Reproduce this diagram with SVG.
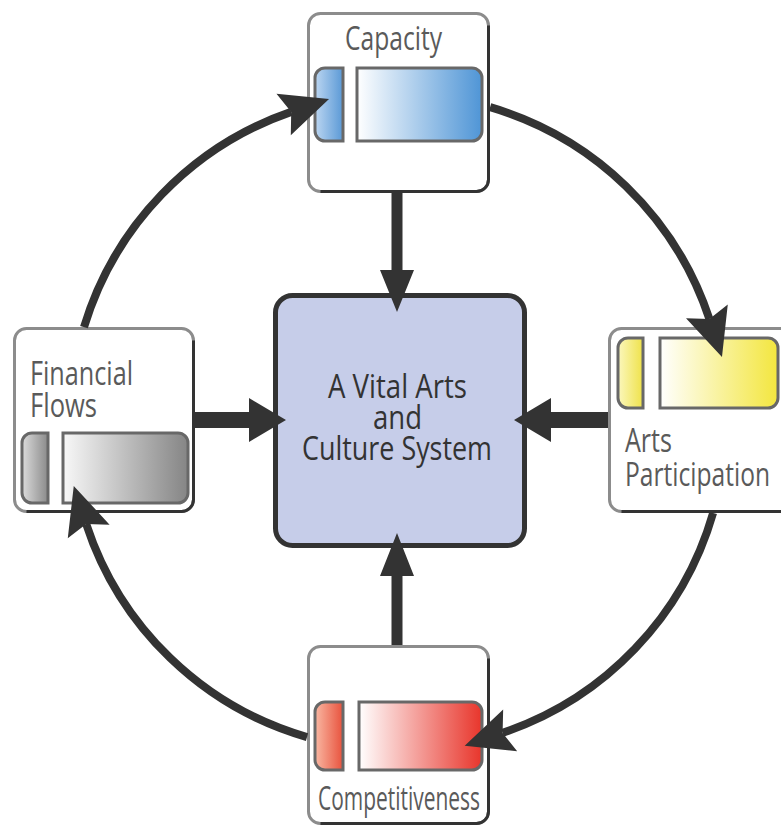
<svg xmlns="http://www.w3.org/2000/svg" width="781" height="827" viewBox="0 0 781 827">
  <style>
    .card { fill: #ffffff; stroke: #8c8c8c; stroke-width: 3; }
    .shade { fill: none; stroke: #333333; stroke-width: 3; }
    .chip { stroke: #686868; stroke-width: 3; }
    .label { font-family: "Open Sans", "Liberation Sans", sans-serif; font-size: 32px; fill: #5a5a5a; }
    .core { fill: #c6cde9; stroke: #333333; stroke-width: 5; }
    .coretext { font-family: "Open Sans", "Liberation Sans", sans-serif; font-size: 32px; fill: #333333; text-anchor: middle; }
    .arc { fill: none; stroke: #333333; stroke-width: 8; }
    .solid { fill: #333333; }
  </style>
  <defs>
    <linearGradient id="blueBar" x1="0" y1="0" x2="1" y2="0">
      <stop offset="0" stop-color="#ffffff"/>
      <stop offset="1" stop-color="#4f95d6"/>
    </linearGradient>
    <linearGradient id="blueTab" x1="0" y1="0" x2="1" y2="0">
      <stop offset="0" stop-color="#bcd6f1"/>
      <stop offset="1" stop-color="#5a99d6"/>
    </linearGradient>
    <linearGradient id="grayBar" x1="0" y1="0" x2="1" y2="0">
      <stop offset="0" stop-color="#f8f8f8"/>
      <stop offset="1" stop-color="#858585"/>
    </linearGradient>
    <linearGradient id="grayTab" x1="0" y1="0" x2="1" y2="0">
      <stop offset="0" stop-color="#dcdcdc"/>
      <stop offset="1" stop-color="#8a8a8a"/>
    </linearGradient>
    <linearGradient id="yellowBar" x1="0" y1="0" x2="1" y2="0">
      <stop offset="0" stop-color="#ffffff"/>
      <stop offset="1" stop-color="#f3e63e"/>
    </linearGradient>
    <linearGradient id="yellowTab" x1="0" y1="0" x2="1" y2="0">
      <stop offset="0" stop-color="#fbf7bd"/>
      <stop offset="1" stop-color="#efe24a"/>
    </linearGradient>
    <linearGradient id="redBar" x1="0" y1="0" x2="1" y2="0">
      <stop offset="0" stop-color="#ffffff"/>
      <stop offset="1" stop-color="#e8352b"/>
    </linearGradient>
    <linearGradient id="redTab" x1="0" y1="0" x2="1" y2="0">
      <stop offset="0" stop-color="#f9b8a3"/>
      <stop offset="1" stop-color="#e8523d"/>
    </linearGradient>
    <!-- barbed head for the curved loop arrows; path ends at the notch -->
    <marker id="loopHead" markerUnits="userSpaceOnUse" markerWidth="50" markerHeight="46" refX="8" refY="22" orient="auto" overflow="visible">
      <path d="M0,0 L48,22 L0,44 L8,22 Z" fill="#333333"/>
    </marker>
  </defs>

  <!-- Capacity -->
  <g id="capacity">
    <rect class="card" x="308.5" y="13.5" width="180" height="178" rx="12"/>
    <path class="shade" d="M488.5,25.5 V179.5 A12,12 0 0 1 476.5,191.5 H320.5"/>
    <path class="chip" fill="url(#blueTab)" d="M343,68 H325 A10,10 0 0 0 315,78 V131 A10,10 0 0 0 325,141 H343 Z"/>
    <path class="chip" fill="url(#blueBar)" d="M357,68 H472 A10,10 0 0 1 482,78 V131 A10,10 0 0 1 472,141 H357 Z"/>
    <text class="label" x="345" y="50" textLength="97" lengthAdjust="spacingAndGlyphs">Capacity</text>
  </g>

  <!-- Financial Flows -->
  <g id="financial-flows">
    <rect class="card" x="14.5" y="328.5" width="179" height="183" rx="12"/>
    <path class="shade" d="M193.5,340.5 V499.5 A12,12 0 0 1 181.5,511.5 H26.5"/>
    <path class="chip" fill="url(#grayTab)" d="M48,433 H32 A10,10 0 0 0 22,443 V493 A10,10 0 0 0 32,503 H48 Z"/>
    <path class="chip" fill="url(#grayBar)" d="M63,433 H178 A10,10 0 0 1 188,443 V493 A10,10 0 0 1 178,503 H63 Z"/>
    <text class="label" x="30" y="385" textLength="103" lengthAdjust="spacingAndGlyphs">Financial</text>
    <text class="label" x="30" y="417" textLength="67" lengthAdjust="spacingAndGlyphs">Flows</text>
  </g>

  <!-- Arts Participation -->
  <g id="arts-participation">
    <rect class="card" x="609.5" y="328.5" width="190" height="183" rx="12"/>
    <path class="shade" d="M621.5,511.5 H799"/>
    <path class="chip" fill="url(#yellowTab)" d="M643,338 H628 A10,10 0 0 0 618,348 V398 A10,10 0 0 0 628,408 H643 Z"/>
    <path class="chip" fill="url(#yellowBar)" d="M660,338 H768 A10,10 0 0 1 778,348 V398 A10,10 0 0 1 768,408 H660 Z"/>
    <text class="label" x="625" y="452" textLength="47" lengthAdjust="spacingAndGlyphs">Arts</text>
    <text class="label" x="625" y="486" textLength="145" lengthAdjust="spacingAndGlyphs">Participation</text>
  </g>

  <!-- Competitiveness -->
  <g id="competitiveness">
    <rect class="card" x="308.5" y="646.5" width="180" height="177" rx="12"/>
    <path class="shade" d="M488.5,658.5 V811.5 A12,12 0 0 1 476.5,823.5 H320.5"/>
    <path class="chip" fill="url(#redTab)" d="M343,702 H325 A10,10 0 0 0 315,712 V760 A10,10 0 0 0 325,770 H343 Z"/>
    <path class="chip" fill="url(#redBar)" d="M359,702 H472 A10,10 0 0 1 482,712 V760 A10,10 0 0 1 472,770 H359 Z"/>
    <text class="label" x="318" y="810" textLength="162" lengthAdjust="spacingAndGlyphs">Competitiveness</text>
  </g>

  <!-- central system -->
  <g id="vital-system">
    <rect class="core" x="275.5" y="295.5" width="249" height="250" rx="17"/>
    <text class="coretext" x="397.5" y="398" textLength="139" lengthAdjust="spacingAndGlyphs">A Vital Arts</text>
    <text class="coretext" x="397.5" y="429" textLength="49" lengthAdjust="spacingAndGlyphs">and</text>
    <text class="coretext" x="397" y="460" textLength="190" lengthAdjust="spacingAndGlyphs">Culture System</text>
  </g>

  <!-- connectors -->
  <g id="connectors">
    <!-- outer loop, clockwise -->
    <path class="arc" marker-end="url(#loopHead)" d="M84,327.2 A328,328 0 0 1 291.2,111.9"/>
    <path class="arc" marker-end="url(#loopHead)" d="M490.1,107.2 A328,328 0 0 1 709.4,319"/>
    <path class="arc" marker-end="url(#loopHead)" d="M713.1,513 A328,328 0 0 1 502.6,732.9"/>
    <path class="arc" marker-end="url(#loopHead)" d="M307,737.1 A328,328 0 0 1 86.2,523.9"/>
    <!-- spokes into the centre -->
    <path class="solid" d="M391.5,193 H402.5 V270 H414 L397,312 L380,270 H391.5 Z"/>
    <path class="solid" d="M391.5,645 H402.5 V576 H414 L397,533 L380,576 H391.5 Z"/>
    <path class="solid" d="M195,412 H249 V398 L286,420 L249,442 V428 H195 Z"/>
    <path class="solid" d="M608,412 H551 V398 L514,420 L551,442 V428 H608 Z"/>
  </g>
</svg>
